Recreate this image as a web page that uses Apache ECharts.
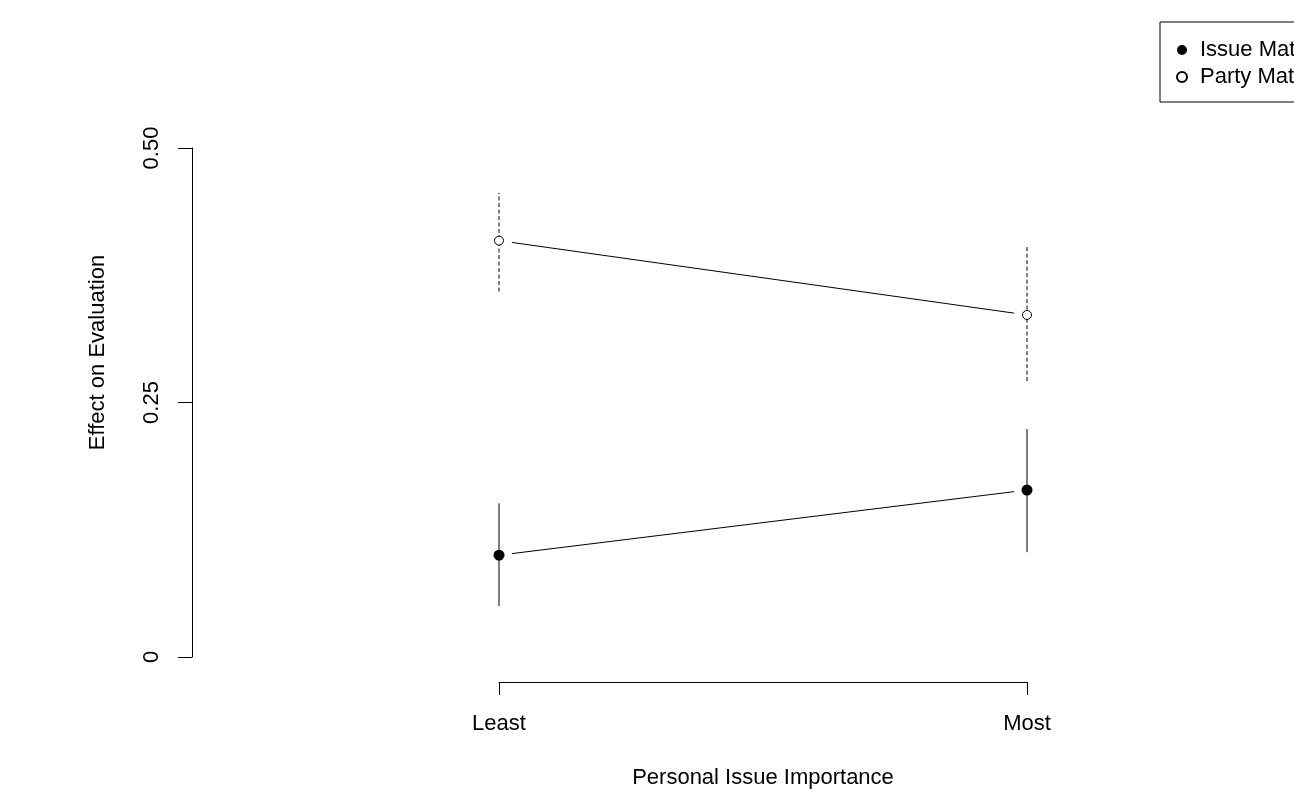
<!DOCTYPE html>
<html>
<head>
<meta charset="utf-8">
<title>Effect on Evaluation by Personal Issue Importance</title>
<script src="https://cdn.jsdelivr.net/npm/echarts@6/dist/echarts.min.js"></script>
<style>
  html, body { margin: 0; padding: 0; background: #ffffff; }
  #chart { width: 1294px; height: 794px; }
</style>
</head>
<body>
<div id="chart"></div>
<script>
// Point estimates with their interval bounds
const categories = ['Least', 'Most'];
const issueEst = [0.100, 0.164];
const issueLow = [0.050, 0.103];
const issueHigh = [0.151, 0.224];
const partyEst = [0.409, 0.336];
const partyLow = [0.359, 0.271];
const partyHigh = [0.456, 0.404];
const yTicks = [0, 0.25, 0.5];
const yTickLabels = ['0', '0.25', '0.50'];
const seriesNames = ['Issue Match', 'Party Match'];

const FONT = "'Liberation Sans', Arial, Helvetica, sans-serif";
const INK = '#000000';

// Vertical interval bars, solid or dashed
function intervalSeries(name, low, high, dashed) {
  return {
    name: name + ' interval',
    type: 'custom',
    silent: true,
    clip: false,
    z: 3,
    data: categories.map((c, i) => [i, low[i], high[i]]),
    renderItem: function (params, api) {
      const a = api.coord([api.value(0), api.value(1)]);
      const b = api.coord([api.value(0), api.value(2)]);
      return {
        type: 'line',
        shape: { x1: a[0], y1: a[1], x2: b[0], y2: b[1] },
        style: { stroke: INK, lineWidth: 1, lineDash: dashed ? [4, 2.5] : null }
      };
    }
  };
}

// Connecting segment between the two estimates, stopped short of each point
function connectorSeries(name, est) {
  const GAP = 13;
  return {
    name: name + ' trend',
    type: 'custom',
    silent: true,
    clip: false,
    z: 2,
    data: [[0, est[0], 1, est[1]]],
    renderItem: function (params, api) {
      const p = api.coord([api.value(0), api.value(1)]);
      const q = api.coord([api.value(2), api.value(3)]);
      const dx = q[0] - p[0], dy = q[1] - p[1];
      const len = Math.sqrt(dx * dx + dy * dy);
      const ux = dx / len, uy = dy / len;
      return {
        type: 'line',
        shape: {
          x1: p[0] + ux * GAP, y1: p[1] + uy * GAP,
          x2: q[0] - ux * GAP, y2: q[1] - uy * GAP
        },
        style: { stroke: INK, lineWidth: 1 }
      };
    }
  };
}

const chart = echarts.init(document.getElementById('chart'), null, { renderer: 'canvas' });

chart.setOption({
  backgroundColor: '#ffffff',
  animation: false,
  textStyle: { fontFamily: FONT },
  grid: { left: 499, right: 267, top: 148, bottom: 136, containLabel: false },
  xAxis: {
    type: 'category',
    data: categories,
    boundaryGap: false,
    offset: 25,
    axisLine: { show: true, onZero: false, lineStyle: { color: INK, width: 1 } },
    axisTick: { show: true, inside: false, length: 13, alignWithLabel: true, lineStyle: { color: INK } },
    axisLabel: { show: true, margin: 31, fontSize: 22, color: INK, fontFamily: FONT },
    splitLine: { show: false },
    name: 'Personal Issue Importance',
    nameLocation: 'middle',
    nameGap: 85,
    nameTextStyle: { fontSize: 22, color: INK, fontFamily: FONT }
  },
  yAxis: {
    type: 'value',
    min: yTicks[0],
    max: yTicks[yTicks.length - 1],
    interval: 0.25,
    offset: 307,
    axisLine: { show: true, onZero: false, lineStyle: { color: INK, width: 1 } },
    axisTick: { show: true, inside: false, length: 14, lineStyle: { color: INK } },
    axisLabel: {
      show: true,
      rotate: 90,
      margin: 29,
      fontSize: 22,
      color: INK,
      fontFamily: FONT,
      formatter: function (v) {
        const i = yTicks.indexOf(v);
        return i >= 0 ? yTickLabels[i] : '';
      }
    },
    splitLine: { show: false }
  },
  legend: {
    orient: 'vertical',
    left: 1160,
    top: 22,
    padding: [17, 40, 14, 16],
    borderColor: INK,
    borderWidth: 1,
    borderRadius: 0,
    itemWidth: 26,
    itemHeight: 10,
    itemGap: 5,
    selectedMode: false,
    textStyle: { fontSize: 22, lineHeight: 22, color: INK, fontFamily: FONT },
    data: [
      { name: seriesNames[0], icon: 'circle' },
      { name: seriesNames[1], icon: 'circle' }
    ]
  },
  graphic: [
    {
      type: 'text',
      x: 98,
      y: 352.5,
      rotation: Math.PI / 2,
      style: {
        text: 'Effect on Evaluation',
        fontSize: 22,
        fontFamily: FONT,
        fill: INK,
        align: 'center',
        verticalAlign: 'middle'
      }
    }
  ],
  series: [
    connectorSeries(seriesNames[0], issueEst),
    connectorSeries(seriesNames[1], partyEst),
    intervalSeries(seriesNames[0], issueLow, issueHigh, false),
    intervalSeries(seriesNames[1], partyLow, partyHigh, true),
    {
      name: seriesNames[0],
      type: 'scatter',
      clip: false,
      z: 4,
      symbol: 'circle',
      symbolSize: 11,
      itemStyle: { color: INK, borderWidth: 0, opacity: 1 },
      data: categories.map((c, i) => [i, issueEst[i]])
    },
    {
      name: seriesNames[1],
      type: 'scatter',
      clip: false,
      z: 4,
      symbol: 'circle',
      symbolSize: 9,
      itemStyle: { color: '#ffffff', borderColor: INK, borderWidth: 1, opacity: 1 },
      data: categories.map((c, i) => [i, partyEst[i]])
    }
  ]
});
</script>
</body>
</html>
